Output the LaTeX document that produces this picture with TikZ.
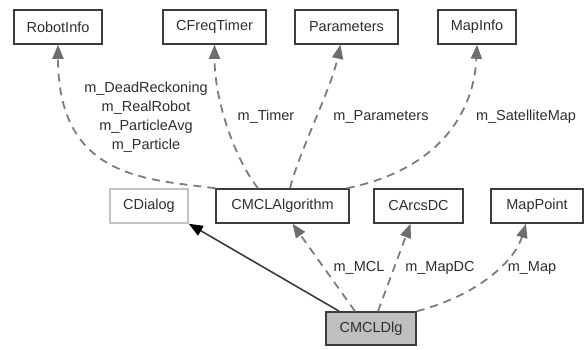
\documentclass[tikz,border=0pt]{standalone}
\usepackage{fontspec}
\setmainfont{Liberation Sans}
\usetikzlibrary{arrows.meta}
\definecolor{boxline}{HTML}{3C3C3C}
\definecolor{faintline}{HTML}{C4C4C4}
\definecolor{linkgray}{HTML}{7C7C7C}
\definecolor{headgray}{HTML}{6E6E6E}
\definecolor{inkgray}{HTML}{2E2E2E}
\definecolor{selfill}{HTML}{BFBFBF}
\tikzset{
  classbox/.style={draw=boxline, line width=1.5pt, fill=white, minimum height=34pt,
    inner sep=0pt, text=inkgray, font=\fontsize{14.5}{19}\selectfont},
  usage/.style={draw=linkgray, line width=1.8pt, dash pattern=on 8pt off 6pt,
    -{Triangle[length=14pt,width=11pt,fill=headgray,color=headgray]}},
  inherit/.style={draw=boxline, line width=1.6pt,
    -{Triangle[length=14pt,width=11pt,fill=black,color=black]}},
  rolelabel/.style={text=inkgray, font=\fontsize{14.5}{19}\selectfont, align=center, inner sep=0pt}
}
\begin{document}
\begin{tikzpicture}[x=1pt, y=-1pt]
\useasboundingbox (0,0) rectangle (586,349);

% top row: used classes
\node[classbox, minimum width=88pt]  (robot)  at (58,27)    {RobotInfo};
\node[classbox, minimum width=103pt] (timer)  at (214.5,27) {CFreqTimer};
\node[classbox, minimum width=103pt] (params) at (346.5,27) {Parameters};
\node[classbox, minimum width=78pt]  (mapinfo) at (477,27)  {MapInfo};

% middle row
\node[classbox, draw=faintline, minimum width=78pt] (dialog) at (149,206) {CDialog};
\node[classbox, minimum width=133pt] (alg)      at (282.5,206) {CMCLAlgorithm};
\node[classbox, minimum width=89pt]  (arcs)     at (418.5,206) {CArcsDC};
\node[classbox, minimum width=92pt]  (mappoint) at (537,206)   {MapPoint};

% the dialog class itself
\node[classbox, fill=selfill, minimum width=90pt, minimum height=33pt] (dlg) at (371,328.5) {CMCLDlg};

% members of CMCLAlgorithm
\draw[usage] (alg.north west) .. controls +(-66,-9) and +(0,135) .. (robot.south);
\draw[usage] ([xshift=-24.5pt]alg.north) .. controls +(-23,-29) and +(0,56) .. (timer.south);
\draw[usage] ([xshift=7.5pt]alg.north) .. controls +(10,-39) and +(-10,46) .. ([xshift=-6pt]params.south);
\draw[usage] ([xshift=-3pt]alg.north east) .. controls +(94,-19) and +(-3,66) .. (mapinfo.south);

% members and base class of CMCLDlg
\draw[inherit] ([xshift=14pt]dlg.north west) -- (dialog.south east);
\draw[usage] ([xshift=-16pt]dlg.north) -- ([xshift=10pt]alg.south);
\draw[usage] ([xshift=7pt]dlg.north) -- ([xshift=-8pt]arcs.south);
\draw[usage] (dlg.north east) .. controls +(64,-17) and +(-11,36) .. ([xshift=-11pt]mappoint.south);

% member names
\node[rolelabel] (lrobot) at (146,117) {m\_DeadReckoning\\m\_RealRobot\\m\_ParticleAvg\\m\_Particle};
\node[rolelabel] (ltimer) at (266,117) {m\_Timer};
\node[rolelabel] (lparams) at (381,117) {m\_Parameters};
\node[rolelabel] (lmap) at (526,117) {m\_SatelliteMap};
\node[rolelabel] (lmcl) at (359,268) {m\_MCL};
\node[rolelabel] (lmapdc) at (440,268) {m\_MapDC};
\node[rolelabel] (lmp) at (532,268) {m\_Map};
\end{tikzpicture}
\end{document}
